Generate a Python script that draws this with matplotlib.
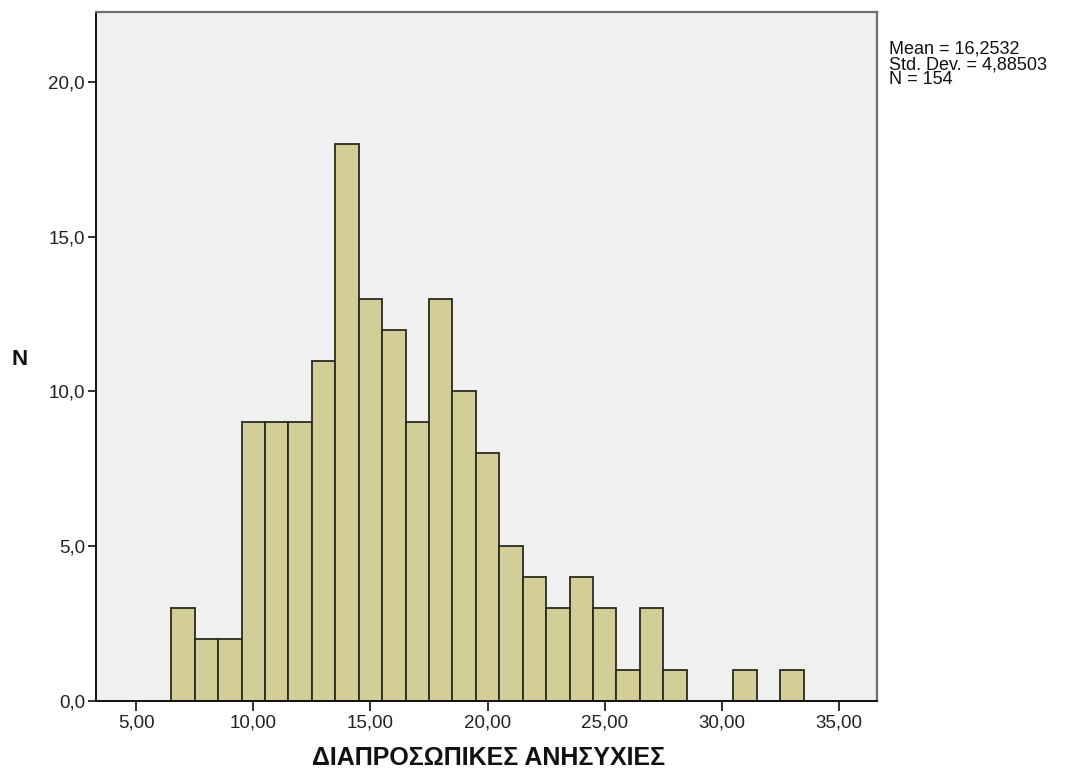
import matplotlib
matplotlib.use("Agg")
import matplotlib.pyplot as plt

# Score values (bin centres, width 1) and their frequencies
scores = list(range(7, 34))
counts = [3, 2, 2, 9, 9, 9, 11, 18, 13, 12, 9, 13, 10, 8, 5, 4, 3, 4, 3, 1, 3, 1, 0, 0, 1, 0, 1]

x_ticks = [5, 10, 15, 20, 25, 30, 35]
x_tick_labels = ["5,00", "10,00", "15,00", "20,00", "25,00", "30,00", "35,00"]
y_ticks = [0, 5, 10, 15, 20]
y_tick_labels = ["0,0", "5,0", "10,0", "15,0", "20,0"]

x_title = "ΔΙΑΠΡΟΣΩΠΙΚΕΣ ΑΝΗΣΥΧΙΕΣ"
y_title = "N"
stats_text = "Mean = 16,2532\nStd. Dev. = 4,88503\nN = 154"

plt.rcParams["font.family"] = ["Liberation Sans", "DejaVu Sans"]

W, H = 1074, 771
fig = plt.figure(figsize=(W / 100, H / 100), dpi=100)
fig.patch.set_facecolor("white")

left, right, top, bottom = 96, 877, 12, 700.5
ax = fig.add_axes([left / W, 1 - bottom / H, (right - left) / W, (bottom - top) / H])
ax.set_facecolor("#F0F0F0")

ax.bar(scores, counts, width=1.0, align="center",
       color="#D3CE97", edgecolor="#2B2A1E", linewidth=1.3, zorder=2)

ax.set_xlim(3.28, 36.63)
ax.set_ylim(0, 22.28)

ax.set_xticks(x_ticks)
ax.set_xticklabels(x_tick_labels)
ax.set_yticks(y_ticks)
ax.set_yticklabels(y_tick_labels)
ax.tick_params(axis="x", length=7, width=1.3, colors="#222222", labelsize=13.5, pad=3)
ax.tick_params(axis="y", length=6, width=1.3, colors="#222222", labelsize=13.5, pad=2)

for side in ("left", "bottom"):
    ax.spines[side].set_color("#111111")
    ax.spines[side].set_linewidth(1.4)
for side in ("top", "right"):
    ax.spines[side].set_color("#6E6E6E")
    ax.spines[side].set_linewidth(1.6)

ax.set_xlabel(x_title, fontsize=18, fontweight="bold", color="#111111")
ax.xaxis.set_label_coords(0.503, -0.084)
ax.xaxis.label.set_va("center")
ax.set_ylabel(y_title, fontsize=16, fontweight="bold", color="#111111",
              rotation=0, labelpad=0)
ax.yaxis.set_label_coords(-0.098, 0.48)

fig.text(889 / W, 1 - 41 / H, stats_text, fontsize=13, color="#111111",
         va="top", ha="left", linespacing=0.86)

fig.savefig("out.png", dpi=100, facecolor="white")
